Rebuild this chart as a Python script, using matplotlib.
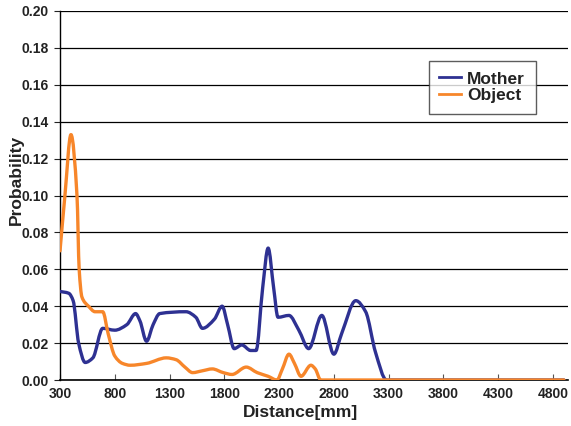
import numpy as np
import matplotlib
matplotlib.use('Agg')
from matplotlib import pyplot as plt
from matplotlib.path import Path
from matplotlib.patches import PathPatch
from matplotlib.lines import Line2D

plt.rcParams['font.family'] = ['Liberation Sans', 'DejaVu Sans']
plt.rcParams['font.weight'] = 'bold'

# values
mother_mm = [300, 380, 420, 470, 530, 600, 690, 800, 910, 990, 1030, 1090, 1150, 1210,
             1450, 1540, 1600, 1710, 1780, 1830, 1890, 1960, 2040, 2090, 2150, 2200,
             2250, 2290, 2390, 2480, 2570, 2690, 2800, 2870, 3000, 3090, 3180, 3280, 4900]
mother_p = [0.048, 0.047, 0.043, 0.020, 0.0095, 0.012, 0.028, 0.027, 0.030, 0.036, 0.032,
            0.021, 0.030, 0.036, 0.037, 0.034, 0.028, 0.033, 0.040, 0.030, 0.017, 0.019,
            0.016, 0.016, 0.050, 0.0715, 0.050, 0.034, 0.035, 0.027, 0.017, 0.035, 0.014,
            0.025, 0.043, 0.037, 0.015, 0.0, 0.0]

object_mm = [300, 345, 400, 455, 475, 500, 560, 620, 690, 740, 800, 870, 940, 1090, 1270,
             1360, 1440, 1510, 1600, 1690, 1790, 1870, 2000, 2100, 2200, 2280, 2330, 2390,
             2440, 2500, 2590, 2630, 2680, 4900]
object_p = [0.070, 0.100, 0.133, 0.100, 0.060, 0.045, 0.040, 0.037, 0.037, 0.025, 0.013,
            0.009, 0.008, 0.009, 0.012, 0.011, 0.007, 0.004, 0.005, 0.006, 0.004, 0.003,
            0.007, 0.004, 0.002, 0.0, 0.006, 0.014, 0.009, 0.002, 0.008, 0.006, 0.0, 0.0]

series = [('Mother', mother_mm, mother_p, '#2E3192'),
          ('Object', object_mm, object_p, '#F7862A')]


def slopes(x, y):
    # Fritsch-Carlson slopes, so the curve never overshoots the points
    h = np.diff(x)
    d = np.diff(y) / h
    m = np.zeros(len(x))
    m[0], m[-1] = d[0], d[-1]
    for i in range(1, len(x) - 1):
        if d[i - 1] * d[i] > 0:
            w1 = 2 * h[i] + h[i - 1]
            w2 = h[i] + 2 * h[i - 1]
            m[i] = (w1 + w2) / (w1 / d[i - 1] + w2 / d[i])
    return m


def smooth_path(x, y):
    x = np.asarray(x, float)
    y = np.asarray(y, float)
    m = slopes(x, y)
    verts = [(x[0], y[0])]
    codes = [Path.MOVETO]
    for i in range(len(x) - 1):
        h = (x[i + 1] - x[i]) / 3.0
        verts += [(x[i] + h, y[i] + m[i] * h),
                  (x[i + 1] - h, y[i + 1] - m[i + 1] * h),
                  (x[i + 1], y[i + 1])]
        codes += [Path.CURVE4] * 3
    return Path(verts, codes)


fig = plt.figure(figsize=(5.71, 4.26), dpi=100)
ax = fig.add_axes([60 / 571, 46 / 426, 508 / 571, 369 / 426])

ax.set_xlim(300, 4937)
ax.set_ylim(0, 0.20)
yt = np.arange(0, 0.201, 0.02)
ax.set_yticks(yt)
ax.set_yticklabels(['%.2f' % v for v in yt])
ax.set_xticks(range(300, 4801, 500))
ax.grid(axis='y', color='black', lw=0.9)
ax.set_axisbelow(True)
for side in ['top', 'right']:
    ax.spines[side].set_visible(False)
ax.spines['left'].set_linewidth(1.0)
ax.spines['bottom'].set_linewidth(1.2)
ax.tick_params(axis='x', direction='in', length=4, labelsize=10, pad=5, width=0.8,
               color='#555555', labelcolor='#222222')
ax.tick_params(axis='y', direction='out', length=4, labelsize=10, pad=4, width=0.8,
               color='#222222', labelcolor='#222222')

handles = []
for name, xs, ys, col in series:
    patch = PathPatch(smooth_path(xs, ys), facecolor='none', edgecolor=col, lw=2.4,
                      capstyle='round', joinstyle='round', zorder=3)
    ax.add_patch(patch)
    handles.append(Line2D([], [], color=col, lw=2.0, label=name))

fig.text(300 / 571, 1 - 412 / 426, 'Distance[mm]', fontsize=12.5, fontweight='bold',
         color='#222222', ha='center', va='center')
fig.text(16 / 571, 1 - 180 / 426, 'Probability', fontsize=12.5, fontweight='bold',
         color='#222222', ha='center', va='center', rotation=90)

leg = ax.legend(handles=handles, loc='upper left',
                bbox_to_anchor=((429 - 60) / 508, (380 - 61) / 369),
                fontsize=12.5, frameon=True, fancybox=False, handlelength=1.25,
                handletextpad=0.36, borderpad=0.6, labelspacing=0.1, borderaxespad=0)
leg.get_frame().set_edgecolor('#333333')
leg.get_frame().set_linewidth(1.0)
for t in leg.get_texts():
    t.set_fontweight('bold')
    t.set_color('#222222')

fig.savefig('out.png', dpi=100)
